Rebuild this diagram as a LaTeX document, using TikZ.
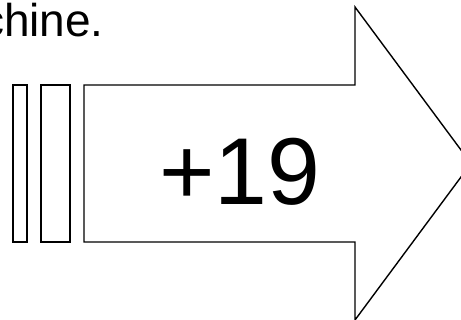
\documentclass[tikz,border=0pt]{standalone}
\usepackage{fontspec}
\setmainfont{Liberation Sans}
\begin{document}
\begin{tikzpicture}[x=1pt,y=-1pt,
  outline/.style={draw=black,line width=1.7pt,line join=miter}]
\useasboundingbox (0,0) rectangle (461,320);
\clip (0,0) rectangle (461,320);
\fill[white] (0,0) rectangle (461,320);
\node[anchor=base east,inner sep=0pt,font=\fontsize{46}{50}\selectfont] (cap) at (104,37) {machine.};
\draw[outline] (13,85) rectangle (27,242);
\draw[outline] (41,85) rectangle (70,242);
\draw[outline,line width=1.4pt] (84,85) -- (355,85) -- (355,7) -- (471,163.5) -- (355,320) -- (355,242) -- (84,242) -- cycle;
\node[anchor=base,inner sep=0pt,font=\fontsize{95}{100}\selectfont] (val) at (240,205) {+19};
\end{tikzpicture}
\end{document}
